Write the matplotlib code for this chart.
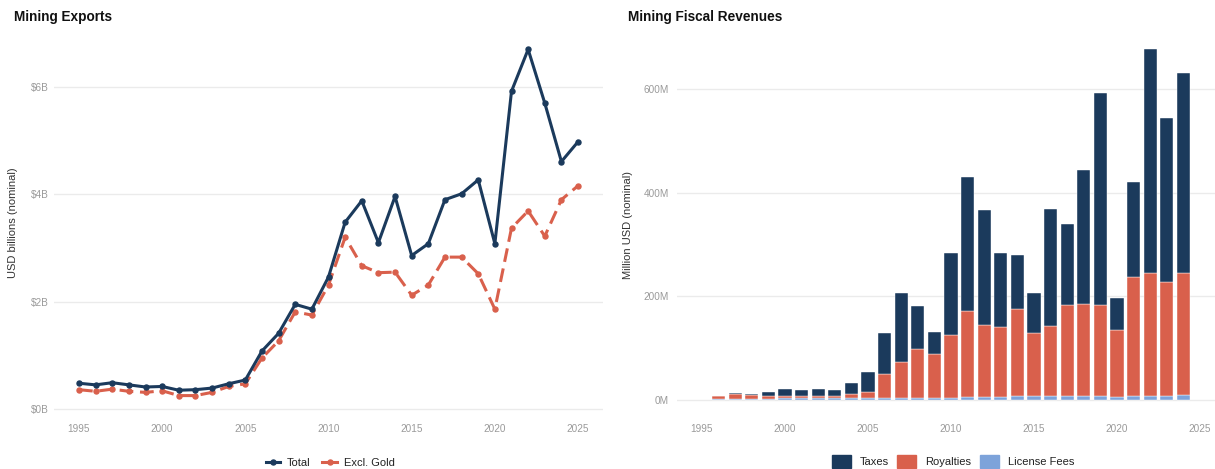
import matplotlib
matplotlib.use("Agg")
import matplotlib.pyplot as plt
from matplotlib.ticker import FuncFormatter, FixedLocator
from matplotlib.patches import Patch
from matplotlib.lines import Line2D
import numpy as np

plt.rcParams['font.family'] = ['Liberation Sans', 'DejaVu Sans']

# ---------------- data ----------------
export_years = list(range(1995, 2026))
total_exports = [0.48, 0.45, 0.49, 0.45, 0.41, 0.42, 0.35, 0.36, 0.39, 0.47,
                 0.54, 1.08, 1.41, 1.95, 1.86, 2.46, 3.48, 3.88, 3.10, 3.96,
                 2.86, 3.08, 3.90, 4.01, 4.27, 3.08, 5.92, 6.70, 5.70, 4.61, 4.98]
excl_gold = [0.36, 0.33, 0.37, 0.33, 0.31, 0.34, 0.25, 0.25, 0.31, 0.42,
             0.47, 0.95, 1.27, 1.81, 1.75, 2.31, 3.20, 2.67, 2.54, 2.55,
             2.12, 2.31, 2.83, 2.83, 2.52, 1.86, 3.37, 3.69, 3.22, 3.90, 4.16]

fiscal_years = list(range(1996, 2025))
license_fees = [2, 2.5, 2.5, 2.5, 3, 3, 3, 3, 3, 3.5,
                4.5, 4.5, 4.5, 4.5, 4.5, 6, 6, 6, 7, 7,
                7, 7, 7, 7, 5, 7, 7, 7, 10]
royalties = [6, 8.5, 6.5, 5.5, 5, 5, 5, 5, 9, 12.5,
             46.5, 68.5, 93.5, 83.5, 120.5, 166, 138, 134, 168, 123,
             135, 177, 178, 177, 130, 230, 238, 220, 235]
taxes = [0, 2, 3, 7, 13, 11, 14, 12, 20, 37,
         79, 134, 84, 44, 158, 258, 223, 143, 104, 77,
         226, 156, 259, 409, 62, 183, 432, 317, 385]

x_ticks = [1995, 2000, 2005, 2010, 2015, 2020, 2025]
left_yticks = [0, 2, 4, 6]
right_yticks = [0, 200, 400, 600]

NAVY = "#1B3A5C"
RED = "#D9604C"
LBLUE = "#7DA3DA"
GRID = "#EBEBEB"
TICK = "#9A9A9A"
TEXT = "#333333"

W, H = 1215, 469
fig = plt.figure(figsize=(W / 100, H / 100), dpi=100)


def pos(x0, x1, ytop, ybot):
    return [x0 / W, 1 - ybot / H, (x1 - x0) / W, (ybot - ytop) / H]


def style(ax):
    for s in ax.spines.values():
        s.set_visible(False)
    ax.tick_params(length=0, labelsize=7.2, colors=TICK)
    ax.grid(axis='y', color=GRID, linewidth=1.0)
    ax.grid(axis='x', visible=False)
    ax.set_axisbelow(True)


# ---------------- left: exports ----------------
ax1 = fig.add_axes(pos(54, 603, 32.1, 412.9))
style(ax1)
ax1.plot(export_years, total_exports, color=NAVY, lw=2.2, marker='o',
         markersize=3.6, solid_joinstyle='round', zorder=3)
ax1.plot(export_years, excl_gold, color=RED, lw=2.2, marker='o',
         markersize=3.6, linestyle=(0, (4.5, 2.2)), zorder=2)
ax1.set_xlim(1993.5, 2026.5)
ax1.set_ylim(-0.0725, 7.0225)
ax1.xaxis.set_major_locator(FixedLocator(x_ticks))
ax1.yaxis.set_major_locator(FixedLocator(left_yticks))
ax1.yaxis.set_major_formatter(FuncFormatter(lambda v, p: f"${v:.0f}B"))
ax1.tick_params(axis='x', pad=8)
ax1.tick_params(axis='y', pad=4)
ax1.set_ylabel("USD billions (nominal)", fontsize=8, color=TEXT)
ax1.yaxis.set_label_coords((18 - 54) / 549, 0.5)

fig.text(14 / W, 1 - 17 / H, "Mining Exports", fontsize=9.8,
         fontweight='bold', color="#111111", va='center', ha='left')

leg1 = fig.legend(
    handles=[Line2D([], [], color=NAVY, lw=2.2, marker='o', markersize=3.6),
             Line2D([], [], color=RED, lw=2.2, marker='o', markersize=3.6)],
    labels=["Total", "Excl. Gold"], loc='center',
    bbox_to_anchor=(330 / W, 1 - 462.5 / H), ncol=2, frameon=False,
    fontsize=8, handlelength=1.3, handletextpad=0.6, columnspacing=1.1,
    borderpad=0, borderaxespad=0)
for t in leg1.get_texts():
    t.set_color("#222222")

# ---------------- right: fiscal revenues ----------------
ax2 = fig.add_axes(pos(677.1, 1224.9, 31.6, 417.5))
style(ax2)
fy = np.array(fiscal_years)
lf = np.array(license_fees)
ro = np.array(royalties)
tx = np.array(taxes)
bw = 0.8
ax2.bar(fy, lf, width=bw, color=LBLUE, edgecolor='white', linewidth=0.3)
ax2.bar(fy, ro, width=bw, bottom=lf, color=RED, edgecolor='white', linewidth=0.3)
ax2.bar(fy, tx, width=bw, bottom=lf + ro, color=NAVY, edgecolor='white', linewidth=0.3)
ax2.set_xlim(1993.5, 2026.5)
ax2.set_ylim(-33.85, 710.85)
ax2.xaxis.set_major_locator(FixedLocator(x_ticks))
ax2.yaxis.set_major_locator(FixedLocator(right_yticks))
ax2.yaxis.set_major_formatter(FuncFormatter(lambda v, p: f"{v:.0f}M"))
ax2.tick_params(axis='x', pad=4.5)
ax2.tick_params(axis='y', pad=6)
ax2.set_ylabel("Million USD (nominal)", fontsize=8, color=TEXT)
ax2.yaxis.set_label_coords((633 - 677.1) / 547.8, 0.5)

fig.text(628 / W, 1 - 17 / H, "Mining Fiscal Revenues", fontsize=9.8,
         fontweight='bold', color="#111111", va='center', ha='left')

leg2 = fig.legend(
    handles=[Patch(color=NAVY), Patch(color=RED), Patch(color=LBLUE)],
    labels=["Taxes", "Royalties", "License Fees"], loc='center',
    bbox_to_anchor=(953 / W, 1 - 461.5 / H), ncol=3, frameon=False,
    fontsize=8, handlelength=1.7, handleheight=1.5, handletextpad=0.8,
    columnspacing=0.8, borderpad=0, borderaxespad=0)
for t in leg2.get_texts():
    t.set_color("#222222")

fig.savefig("out.png", dpi=100, facecolor='white')
